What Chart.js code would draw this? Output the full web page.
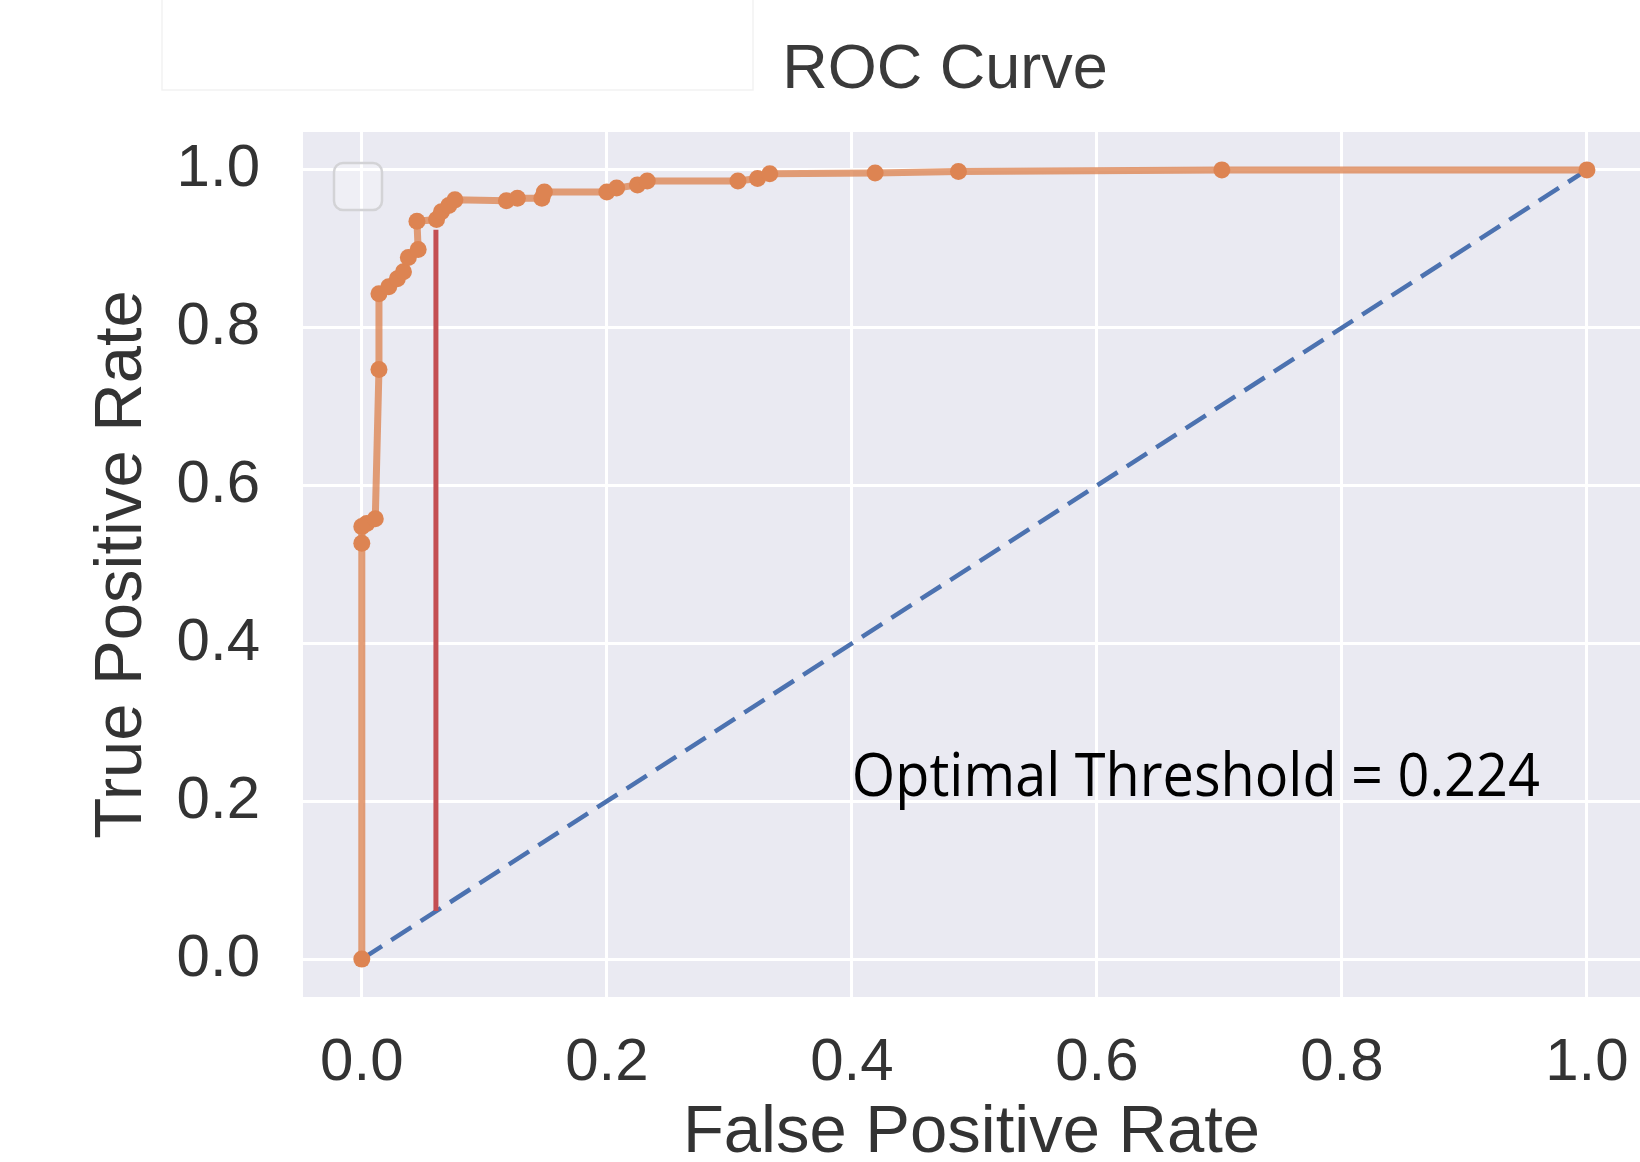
<!DOCTYPE html>
<html>
<head>
<meta charset="utf-8">
<title>ROC Curve</title>
<script src="https://cdn.jsdelivr.net/npm/chart.js@4.4.1/dist/chart.umd.min.js"></script>
<style>
  html, body { margin:0; padding:0; background:#fff; }
  #wrap { position:relative; width:1640px; height:1162px; }
</style>
</head>
<body>
<div id="wrap"><canvas id="cv-roc"></canvas></div>
<script>
// ---------- 1) Data ----------
const fpr = [0, 0, 0, 0.004, 0.011, 0.014, 0.014, 0.022, 0.029, 0.034, 0.038, 0.046, 0.045,
             0.061, 0.065, 0.071, 0.076, 0.118, 0.127, 0.147, 0.149, 0.200, 0.208, 0.225, 0.233,
             0.307, 0.323, 0.333, 0.419, 0.487, 0.702, 1.0];
const tpr = [0, 0.527, 0.548, 0.552, 0.558, 0.747, 0.843, 0.852, 0.862, 0.871, 0.889, 0.899, 0.935,
             0.937, 0.947, 0.955, 0.962, 0.961, 0.964, 0.964, 0.972, 0.972, 0.977, 0.981, 0.986,
             0.986, 0.989, 0.995, 0.996, 0.998, 1.0, 1.0];

const chanceFpr = [0, 1];
const chanceTpr = [0, 1];

// Youden line at the optimal threshold
const optFpr = [0.0605, 0.0605];
const optTpr = [0.061, 0.924];

const tickValues = [0, 0.2, 0.4, 0.6, 0.8, 1.0];

const titleText      = 'ROC Curve';
const xTitle         = 'False Positive Rate';
const yTitle         = 'True Positive Rate';
const thresholdLabel = 'Optimal Threshold = 0.224';

// ---------- 2) Helpers ----------
const pts = (xs, ys) => xs.map((x, i) => ({ x, y: ys[i] }));
const SANS = '"Liberation Sans", Arial, sans-serif';

// ---------- 3) Decorations (plot background, empty legend, texts) ----------
const decor = {
  id: 'decor',
  beforeDraw(chart){
    const { ctx, chartArea: a } = chart;
    ctx.save();
    ctx.fillStyle = '#eaeaf2';
    ctx.fillRect(a.left, a.top, a.right - a.left, a.bottom - a.top);
    // faint frame left over around the title area
    ctx.strokeStyle = '#f2f2f2';
    ctx.lineWidth = 1.5;
    ctx.strokeRect(162, -2, 591, 92);
    ctx.restore();
  },
  afterDraw(chart){
    const { ctx, chartArea: a, scales: { x, y } } = chart;
    ctx.save();

    // empty legend box
    const lx = a.left + 31, ly = a.top + 31, w = 48, h = 47, r = 9;
    ctx.beginPath();
    ctx.roundRect(lx, ly, w, h, r);
    ctx.fillStyle = 'rgba(255,255,255,0.25)';
    ctx.fill();
    ctx.strokeStyle = '#d3d3d6';
    ctx.lineWidth = 2.5;
    ctx.stroke();

    // title
    ctx.fillStyle = '#3a3a3a';
    ctx.font = `63px ${SANS}`;
    ctx.textAlign = 'center';
    ctx.textBaseline = 'alphabetic';
    ctx.fillText(titleText, 945, 88);

    // threshold annotation (Calibri-like, squeezed to the original width)
    ctx.font = '60px "Open Sans", "Noto Sans", sans-serif';
    ctx.textAlign = 'left';
    const mw = ctx.measureText(thresholdLabel).width;
    const tx = x.getPixelForValue(0.4), ty = y.getPixelForValue(0.207);
    ctx.translate(tx, ty);
    ctx.scale(688 / mw, 1);
    ctx.fillStyle = '#000';
    ctx.fillText(thresholdLabel, 0, 0);

    ctx.restore();
  }
};

// ---------- 4) Chart ----------
const tickFont = { family: SANS, size: 60 };
const fmt = v => Number(v).toFixed(1);
const gridOpts = { color: '#ffffff', lineWidth: 3, drawTicks: false };
const setTicks = s => { s.ticks = tickValues.map(v => ({ value: v })); };

new Chart(document.getElementById('cv-roc').getContext('2d'), {
  type: 'line',
  data: {
    datasets: [
      { label: 'ROC', data: pts(fpr, tpr),
        borderColor: 'rgba(221,132,82,0.78)', borderWidth: 7,
        pointRadius: 8.5, pointHoverRadius: 8.5, pointBorderWidth: 0,
        pointBackgroundColor: '#dd8452', tension: 0 },
      { label: 'Optimal', data: pts(optFpr, optTpr),
        borderColor: '#c44e52', borderWidth: 5, pointRadius: 0 },
      { label: 'Chance', data: pts(chanceFpr, chanceTpr),
        borderColor: '#4c72b0', borderWidth: 4.5, borderDash: [24, 11], pointRadius: 0 }
    ]
  },
  options: {
    responsive: true, maintainAspectRatio: false, animation: false,
    layout: { autoPadding: false, padding: { top: 132, left: 0, right: 0, bottom: 0 } },
    plugins: { legend: { display: false }, tooltip: { enabled: false } },
    scales: {
      x: {
        type: 'linear', min: -0.048, max: 1.0433,
        afterBuildTicks: setTicks,
        afterFit: s => { s.height = 165; s.paddingLeft = 0; s.paddingRight = 0; },
        grid: gridOpts, border: { display: false },
        ticks: { font: tickFont, color: '#333', padding: 30, maxRotation: 0, callback: fmt },
        title: { display: true, text: xTitle, color: '#333',
                 font: { family: SANS, size: 67, lineHeight: 0.85 }, padding: 0 }
      },
      y: {
        type: 'linear', min: -0.048, max: 1.048,
        afterBuildTicks: setTicks,
        afterFit: s => { s.width = 303; s.paddingTop = 0; s.paddingBottom = 0; },
        grid: gridOpts, border: { display: false },
        ticks: { font: tickFont, color: '#333', padding: 43, callback: fmt },
        title: { display: true, text: yTitle, color: '#333',
                 font: { family: SANS, size: 67, lineHeight: 1.2 }, padding: { top: 82, bottom: 0 } }
      }
    }
  },
  plugins: [decor]
});
</script>
</body>
</html>
